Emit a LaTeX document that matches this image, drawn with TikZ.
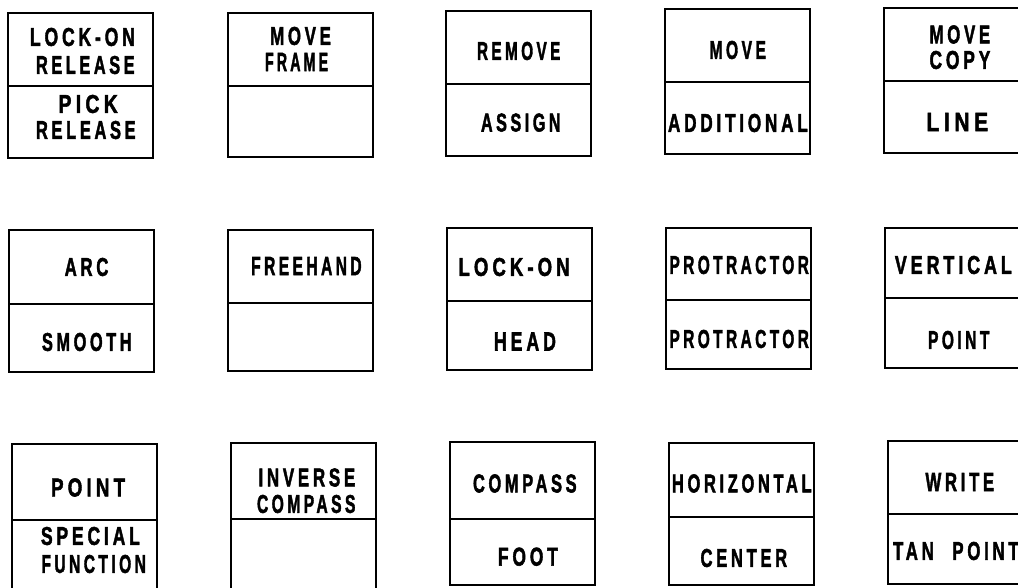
\documentclass[tikz,border=0pt]{standalone}
\usepackage{fontspec}
\usepackage{graphicx}
\newfontfamily\lblfont[LetterSpace=22,FakeBold=2.2]{Liberation Sans Bold}
\newcommand\lbl[2]{\resizebox{#1pt}{18pt}{\lblfont #2\kern-0.22em}}
\newcommand\keybox[5]{%
  \draw[boxline] (#2,#3) rectangle ++(145,#5-#3);
  \draw[boxline] (#2,#4) -- ++(145,0);
  \coordinate (#1) at (#2,#3);}
\tikzset{
  boxline/.style={draw=black, line width=2.6pt, line join=miter},
  lbl/.style={inner sep=0pt, outer sep=0pt, anchor=center, text=black}
}
\begin{document}
\begin{tikzpicture}[x=1pt,y=-1pt]
\useasboundingbox[fill=white] (0,0) rectangle (1018,587);
\clip (0,0) rectangle (1018,587);
% row 1
\keybox{b11}{8}{13}{86}{158}
\keybox{b12}{228}{13}{86}{157}
\keybox{b13}{446}{11}{84}{156}
\keybox{b14}{665}{9}{82}{154}
\keybox{b15}{884}{8}{81}{153}
% row 2
\keybox{b21}{9}{230}{304}{372}
\keybox{b22}{228}{230}{303}{371}
\keybox{b23}{447}{228}{301}{370}
\keybox{b24}{666}{228}{300}{369}
\keybox{b25}{885}{228}{298}{368}
% row 3
\keybox{b31}{12}{444}{520}{595}
\keybox{b32}{231}{443}{519}{595}
\keybox{b33}{450}{442}{519}{585}
\keybox{b34}{669}{443}{517}{585}
\keybox{b35}{888}{441}{514}{584}
% labels row 1
\node[lbl] (t11a) at (80.5,37) {\lbl{101}{LOCK-ON}};
\node[lbl] (t11b) at (83.5,65) {\lbl{95}{RELEASE}};
\node[lbl] (t11c) at (86,104) {\lbl{55}{PICK}};
\node[lbl] (t11d) at (84,130) {\lbl{96}{RELEASE}};
\node[lbl] (t12a) at (298.7,36) {\lbl{57}{MOVE}};
\node[lbl] (t12b) at (295,62) {\lbl{60}{FRAME}};
\node[lbl] (t13a) at (517,51) {\lbl{80}{REMOVE}};
\node[lbl] (t13b) at (519,122.6) {\lbl{76}{ASSIGN}};
\node[lbl] (t14a) at (736,50) {\lbl{53}{MOVE}};
\node[lbl] (t14b) at (736,123) {\lbl{136}{ADDITIONAL}};
\node[lbl] (t15a) at (958,34.5) {\lbl{57}{MOVE}};
\node[lbl] (t15b) at (958,60) {\lbl{57}{COPY}};
\node[lbl] (t15c) at (955,122) {\lbl{57}{LINE}};
% labels row 2
\node[lbl] (t21a) at (84.7,267) {\lbl{40}{ARC}};
\node[lbl] (t21b) at (85,342) {\lbl{86}{SMOOTH}};
\node[lbl] (t22a) at (304.7,266) {\lbl{107}{FREEHAND}};
\node[lbl] (t23a) at (512,267) {\lbl{107}{LOCK-ON}};
\node[lbl] (t23b) at (523,341.5) {\lbl{58}{HEAD}};
\node[lbl] (t24a) at (737.5,265) {\lbl{136}{PROTRACTOR}};
\node[lbl] (t24b) at (737.5,339) {\lbl{136}{PROTRACTOR}};
\node[lbl] (t25a) at (951.4,265) {\lbl{113}{VERTICAL}};
\node[lbl] (t25b) at (957,340) {\lbl{58}{POINT}};
% labels row 3
\node[lbl] (t31a) at (86,487.5) {\lbl{70}{POINT}};
\node[lbl] (t31b) at (88.5,536) {\lbl{95}{SPECIAL}};
\node[lbl] (t31c) at (92,564) {\lbl{101}{FUNCTION}};
\node[lbl] (t32a) at (305,477.5) {\lbl{93}{INVERSE}};
\node[lbl] (t32b) at (304.5,504) {\lbl{95}{COMPASS}};
\node[lbl] (t33a) at (523,483.5) {\lbl{100}{COMPASS}};
\node[lbl] (t33b) at (526,556.7) {\lbl{56}{FOOT}};
\node[lbl] (t34a) at (740,483.5) {\lbl{136}{HORIZONTAL}};
\node[lbl] (t34b) at (742,558) {\lbl{83}{CENTER}};
\node[lbl] (t35a) at (958,482) {\lbl{65}{WRITE}};
\node[lbl] (t35b) at (954,551) {\lbl{122}{TAN\hspace{1.1em}POINT}};
\end{tikzpicture}
\end{document}
